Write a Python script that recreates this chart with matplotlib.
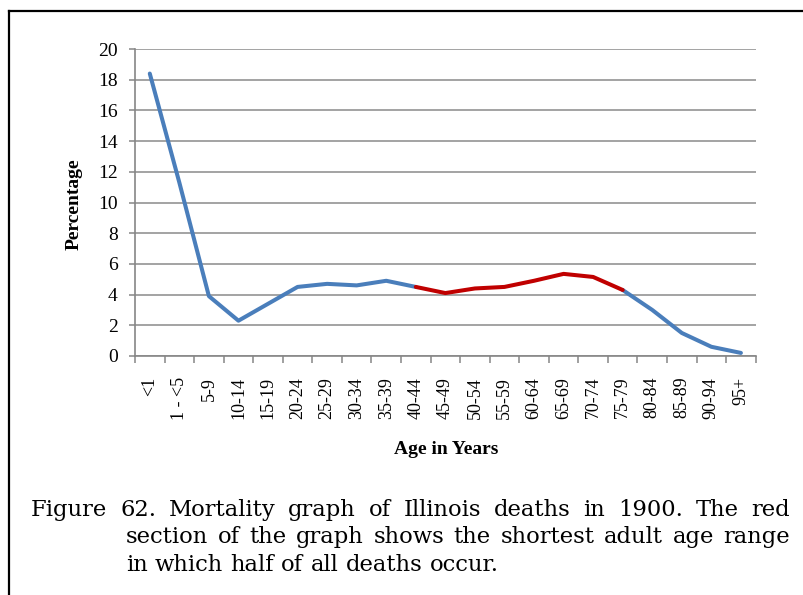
import numpy as np
import matplotlib
matplotlib.use("Agg")
import matplotlib.pyplot as plt
from matplotlib.lines import Line2D

# Share of deaths by age group, Illinois 1900
age_groups = ["<1", "1 - <5", "5-9", "10-14", "15-19", "20-24", "25-29",
              "30-34", "35-39", "40-44", "45-49", "50-54", "55-59", "60-64",
              "65-69", "70-74", "75-79", "80-84", "85-89", "90-94", "95+"]
percentages = [18.4, 11.3, 3.9, 2.3, 3.4, 4.5, 4.7, 4.6, 4.9, 4.5, 4.1,
               4.4, 4.5, 4.9, 5.35, 5.15, 4.3, 3.0, 1.5, 0.6, 0.2]
# index range (inclusive) of the shortest adult span holding half of all deaths
half_start, half_end = 9, 16

y_ticks = list(range(0, 21, 2))

caption_lines = [
    "Figure 62. Mortality graph of Illinois deaths in 1900. The red",
    "section of the graph shows the shortest adult age range",
    "in which half of all deaths occur.",
]

W, H = 804, 595
plt.rcParams["font.family"] = "Liberation Serif"
CAPTION_FONT = "DejaVu Serif"

fig = plt.figure(figsize=(W / 100, H / 100), dpi=100)
ax = fig.add_axes([135 / W, 1 - 356 / H, (755.7 - 135) / W, (356 - 49) / H])

x = np.arange(len(age_groups))
y = np.array(percentages)
blue, red = "#4A7EBB", "#C00000"
style = dict(lw=2.9, solid_joinstyle="round", solid_capstyle="round")
ax.plot(x[:half_start + 1], y[:half_start + 1], color=blue, zorder=3, **style)
ax.plot(x[half_end:], y[half_end:], color=blue, zorder=3, **style)
ax.plot(x[half_start:half_end + 1], y[half_start:half_end + 1], color=red,
        zorder=4, **style)

ax.set_xlim(-0.5, len(age_groups) - 0.5)
ax.set_ylim(0, 20)
ax.set_yticks(y_ticks)
ax.set_yticklabels([str(v) for v in y_ticks], fontsize=14)
ax.yaxis.grid(True, color="#8a8a8a", lw=1.1)
ax.set_axisbelow(True)

ax.set_xticks(x)
ax.set_xticklabels(age_groups, rotation=90, fontsize=13, va="top")
ax.set_xticks(np.arange(-0.5, len(age_groups), 1), minor=True)
ax.tick_params(axis="x", which="major", length=0, pad=15)
ax.tick_params(axis="x", which="minor", length=5, width=1.1, color="#868686")
ax.tick_params(axis="y", length=4.5, width=1.1, color="#868686", pad=8)

for side in ("top", "right"):
    ax.spines[side].set_visible(False)
for side in ("left", "bottom"):
    ax.spines[side].set_color("#868686")
    ax.spines[side].set_linewidth(1.2)

fig.text(73.7 / W, 1 - 204 / H, "Percentage", rotation=90, ha="center",
         va="center", fontsize=14, fontweight="bold")
fig.text(446 / W, 1 - 450 / H, "Age in Years", ha="center", va="center",
         fontsize=14, fontweight="bold")

# frame around the figure (top and left edges)
fig.add_artist(Line2D([8.5 / W, 1], [1 - 10.5 / H, 1 - 10.5 / H],
                      transform=fig.transFigure, color="black", lw=1.6))
fig.add_artist(Line2D([8.5 / W, 8.5 / W], [0, 1 - 10.5 / H],
                      transform=fig.transFigure, color="black", lw=1.6))

# caption: first two lines justified, last line flush left
fig.canvas.draw()
renderer = fig.canvas.get_renderer()
cap_size = 16.3


def text_width(s):
    t = fig.text(0, 0, s, fontsize=cap_size, family=CAPTION_FONT)
    w = t.get_window_extent(renderer).width
    t.remove()
    return w


def put_line(text, x0, x1, baseline, justify):
    words = text.split(" ")
    items = [fig.text(0, 1 - baseline / H, w, fontsize=cap_size,
                      family=CAPTION_FONT, va="baseline", ha="left")
             for w in words]
    widths = [t.get_window_extent(renderer).width for t in items]
    if justify and len(words) > 1:
        gap = (x1 - x0 - sum(widths)) / (len(words) - 1)
    else:
        gap = text_width("a a") - text_width("aa")
    pos = x0
    for t, w in zip(items, widths):
        t.set_x(pos / W)
        pos += w + gap


put_line(caption_lines[0], 31, 790, 516, True)
put_line(caption_lines[1], 126, 790, 543, True)
put_line(caption_lines[2], 126, 790, 571, False)

fig.savefig("out.png", dpi=100)
